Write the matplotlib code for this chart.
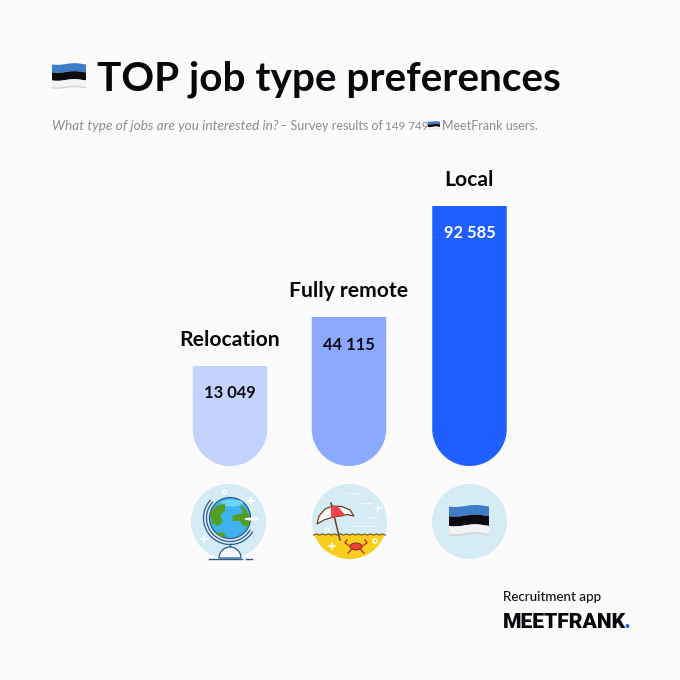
import matplotlib
matplotlib.use('Agg')
import matplotlib.pyplot as plt
import numpy as np
from matplotlib.patches import Circle, Wedge, Ellipse, Polygon

# Data
categories = ['Relocation', 'Fully remote', 'Local']
value_labels = ['13 049', '44 115', '92 585']
# drawn bar heights, the bars in the picture are not to scale with the counts
bar_heights = [100, 149, 260]
bar_colors = ['#c3d3fe', '#8aa9ff', '#1f5fff']
value_colors = ['#0b0b14', '#0b0b14', '#ffffff']
bar_centers = [230, 349, 469.5]
icon_centers = [228.5, 349.5, 469.5]

BASE = 466
BAR_W = 74.5
FONT = 'Lato'
BG = '#fbfbfc'
GREY = '#8b8b92'

fig = plt.figure(figsize=(6.8, 6.8), dpi=100, facecolor=BG)
ax = fig.add_axes([0, 0, 1, 1])
ax.set_xlim(0, 680)
ax.set_ylim(680, 0)
ax.axis('off')


def flag(cx, cy, w, h, wave=0.035):
    # wavy estonian flag from three bands, grey strip for the shaded lower edge
    x = np.linspace(-0.5, 0.5, 40)
    off = -wave * h * np.sin(x * 2 * np.pi + 0.6)
    bands = [('#3f7cc8', -0.5, -0.167), ('#0c0c10', -0.167, 0.167), ('#f3f3f4', 0.167, 0.44), ('#d6d6d9', 0.44, 0.5)]
    for c, t0, t1 in bands:
        top = np.column_stack([cx + x * w, cy + t0 * h + off])
        bot = np.column_stack([cx + x[::-1] * w, cy + t1 * h + off[::-1]])
        ax.add_patch(Polygon(np.vstack([top, bot]), closed=True, fc=c, ec='none', zorder=5))


def sparkle(x, y, s=4, color='white'):
    ax.plot([x - s, x + s], [y, y], color=color, lw=1.2, zorder=6)
    ax.plot([x, x], [y - s, y + s], color=color, lw=1.2, zorder=6)


# Title
ax.text(97, 91, 'TOP job type preferences', fontsize=29.2, fontweight='bold', family=FONT,
        color='#08080c', va='baseline', ha='left')
flag(69, 76, 34, 24)
ax.text(52, 130, 'What type of jobs are you interested in?', fontsize=9.8, style='italic', family=FONT,
        color=GREY, va='baseline', ha='left')
ax.text(280, 130, '– Survey results of', fontsize=9.0, family=FONT,
        color=GREY, va='baseline', ha='left')
ax.text(385, 130, '149 749', fontsize=8.4, family=FONT,
        color=GREY, va='baseline', ha='left')
flag(434, 125.5, 12, 8)
ax.text(442, 130, 'MeetFrank users.', fontsize=9.0, family=FONT,
        color=GREY, va='baseline', ha='left')

# Bars with a round bottom
for cx, h, col, cat, lab, tc in zip(bar_centers, bar_heights, bar_colors, categories, value_labels, value_colors):
    r = BAR_W / 2
    top = BASE - h
    a = np.radians(np.linspace(0, 180, 60))
    xs = np.r_[cx + r, cx + r * np.cos(a), cx - r]
    ys = np.r_[top, BASE - r + r * np.sin(a), top]
    ax.fill(xs, ys, color=col, lw=0, zorder=2)
    ax.text(cx - 0.5, top - 20, cat, fontsize=15.2, fontweight='bold', family=FONT,
            color='#08080c', ha='center', va='baseline')
    ax.text(cx, top + 32.5, lab, fontsize=11.9, fontweight='bold', family=FONT,
            color=tc, ha='center', va='baseline', zorder=3)

# Icon circles
ICON_Y = 521.5
for cx in icon_centers:
    ax.add_patch(Circle((cx, ICON_Y), 37.5, fc='#d5ebf5', ec='none', zorder=2))

# Globe
gx, gy = 230, 518
ax.add_patch(Circle((gx, gy), 20.5, fc='#3fb2ee', ec='#2d5a8c', lw=0.9, zorder=4))
ax.add_patch(Ellipse((gx + 2, gy - 15), 22, 7, fc='#6fd4f5', ec='none', zorder=4))
land = [[(210.5, 513), (216, 506), (225, 503.5), (225, 511), (220, 515), (223, 522), (217, 526), (212, 523)],
        [(240, 505), (246, 509), (250, 518), (248, 527), (243, 526), (240, 521), (233, 521), (232, 516), (243, 513)],
        [(215, 532), (224, 533), (226, 537), (221, 537)]]
for pts in land:
    ax.add_patch(Polygon(pts, closed=True, fc='#53a021', ec='none', zorder=5))
t = np.radians(np.linspace(32, 222, 60))
for rad in (23.5, 26.5):
    ax.plot(gx + rad * np.cos(t), gy + rad * np.sin(t), color='#2d5a8c', lw=0.9, zorder=3)
ax.plot([230, 230], [544, 549], color='#2d5a8c', lw=1, zorder=4)
ax.add_patch(Wedge((230, 558), 11, 180, 360, fc='#f2f6fa', ec='#2d5a8c', lw=0.9, zorder=4))
ax.plot([209, 242], [558.5, 558.5], color='#2d5a8c', lw=1, zorder=5)
ax.plot([246, 252], [558.5, 558.5], color='#2d5a8c', lw=1, zorder=5)
ax.add_patch(Ellipse((252, 519), 15, 3, fc='white', ec='none', zorder=6))
sparkle(204, 539, 3)
sparkle(251, 501, 3)
ax.add_patch(Circle((224.5, 492), 2, fc='none', ec='white', lw=1, zorder=4))

# Beach
bx = 349.5
ax.add_patch(Polygon([(bx - 38, 535), (bx + 38, 535), (bx + 38, 560), (bx - 38, 560)], closed=True,
                     fc='#f8cf1c', ec='none', zorder=3,
                     clip_path=Circle((bx, ICON_Y), 37.5, transform=ax.transData)))
wx = np.arange(bx - 36, bx + 37, 3)
wy = 534.5 + 0.6 * (-1.0) ** np.arange(len(wx))
ax.plot(wx, wy, color='#7a4a1a', lw=0.8, zorder=4)
ax.plot([331, 340], [503, 540], color='#6b4020', lw=1.1, zorder=4)
canopy = [(317, 524), (319, 516), (325, 509), (333, 506), (342, 506.5), (350, 510), (354, 516),
          (347, 514.5), (341, 516), (336, 516.5), (330, 518), (324, 520)]
ax.add_patch(Polygon(canopy, closed=True, fc='white', ec='#6b4020', lw=0.9, zorder=5))
ax.add_patch(Polygon([(331, 507), (338, 506.5), (345, 515), (336, 516.5), (331, 518)], closed=True,
                     fc='#f0424a', ec='none', zorder=6))
ax.add_patch(Ellipse((356, 546.5), 12, 7, fc='#e8433a', ec='#8a2a1e', lw=0.7, zorder=5))
for s in (-1, 1):
    ax.plot([356 + s * 6, 356 + s * 11, 356 + s * 9], [546, 543, 540], color='#c2352c', lw=1, zorder=5)
    ax.plot([356 + s * 4, 356 + s * 8], [549, 553], color='#c2352c', lw=1, zorder=5)
for cloud in [(346, 493, 360, 493), (358, 503, 372, 503), (366, 517, 378, 517), (353, 526, 374, 526)]:
    ax.plot(cloud[0::2], cloud[1::2], color='#eef7fb', lw=0.9, zorder=4)
sparkle(332, 546, 3)
sparkle(378, 508, 2.5)
ax.add_patch(Circle((375, 541), 2, fc='none', ec='white', lw=1, zorder=5))
ax.add_patch(Circle((327, 530), 2, fc='none', ec='white', lw=0.9, zorder=4))

# Flag icon
flag(469, 520.5, 40, 29)

# Logo
ax.text(503, 601, 'Recruitment app', fontsize=9.6, family=FONT, fontweight='medium',
        color='#111116', va='baseline', ha='left')
ax.text(503, 627.5, 'MEETFRANK', fontsize=15.2, family='Roboto', fontweight='black',
        color='#08080c', va='baseline', ha='left')
ax.add_patch(Circle((627.5, 626), 2, fc='#1f5fff', ec='none', zorder=5))

plt.savefig('out.png', dpi=100, facecolor=BG)
